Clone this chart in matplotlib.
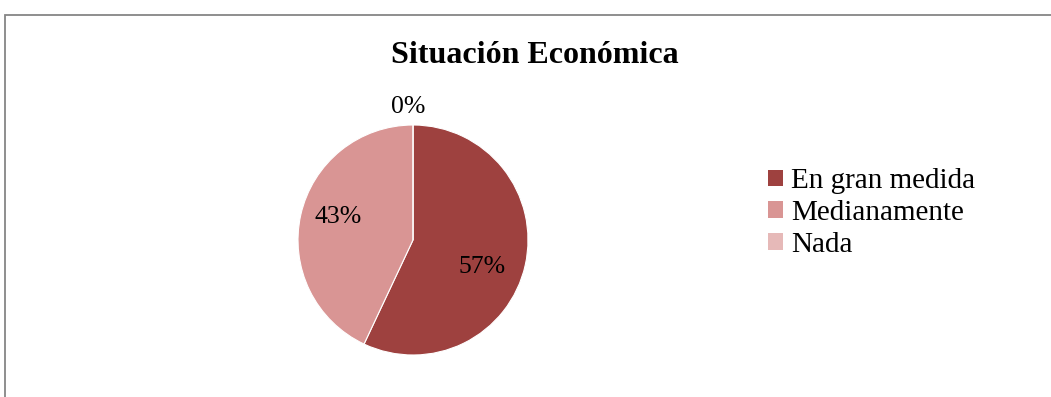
import numpy as np
import matplotlib
matplotlib.use("Agg")
import matplotlib.pyplot as plt
from matplotlib.patches import Rectangle, Patch

plt.rcParams['font.family'] = ['Liberation Serif', 'DejaVu Serif']

title = "Situación Económica"
categories = ["En gran medida", "Medianamente", "Nada"]
values = [57, 43, 0]
colors = ["#9E413F", "#D99594", "#E6B9B8"]

# label placement: (radius fraction, angular nudge in degrees)
label_place = [(0.646, -9.0), (0.677, -4.2), (1.157, 2.0)]

W, H, DPI = 1051, 397, 100
fig = plt.figure(figsize=(W / DPI, H / DPI), dpi=DPI)
fig.patch.set_facecolor("white")

# chart frame (extends past the right/bottom edges)
fig.patches.append(Rectangle((4.5 / W, -0.1), 1.2, (H - 15) / H + 0.1,
                             transform=fig.transFigure, fill=False,
                             edgecolor="#868686", linewidth=1.3))

cx, cy, r = 413, 240, 115
ax = fig.add_axes([(cx - r) / W, (H - cy - r) / H, 2 * r / W, 2 * r / H])
wedges, _ = ax.pie(values, colors=colors, startangle=90, counterclock=False,
                   radius=1.0, wedgeprops=dict(linewidth=0.8, edgecolor="white"))
ax.set_xlim(-1, 1)
ax.set_ylim(-1, 1)
ax.set_aspect("equal")
ax.axis("off")

total = sum(values)
for w, v, (d, nudge) in zip(wedges, values, label_place):
    ang = np.deg2rad((w.theta1 + w.theta2) / 2 + nudge)
    ax.text(d * np.cos(ang), d * np.sin(ang), f"{round(100 * v / total)}%",
            ha="center", va="center", fontsize=18.5, color="black")

fig.text(535 / W, 1 - 63 / H, title, ha="center", va="baseline",
         fontsize=23, fontweight="bold")

handles = [Patch(facecolor=c, edgecolor="none") for c in colors]
fig.legend(handles, categories, loc="center left",
           bbox_to_anchor=(768 / W, 1 - 213 / H), frameon=False,
           fontsize=21, handlelength=0.5, handleheight=0.5,
           handletextpad=0.3, labelspacing=0.2, borderpad=0,
           borderaxespad=0)

fig.savefig("out.png", dpi=DPI)
